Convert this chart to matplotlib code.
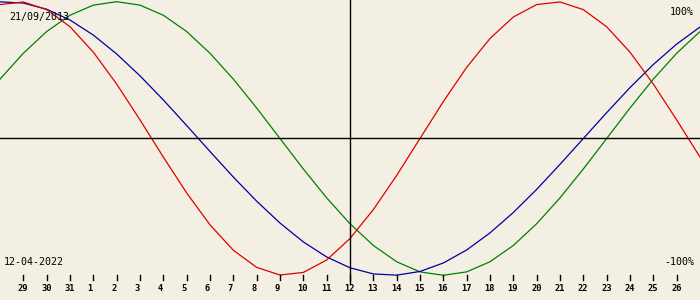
import matplotlib
matplotlib.use("Agg")
import matplotlib.pyplot as plt

BG = '#f3efe3'

# day labels under the ticks (29 Mar .. 26 Apr)
dayLabels = ['29', '30', '31'] + [str(d) for d in range(1, 27)]
todayLabel = '12'

# daily values, 28 Mar .. 27 Apr (one extra day on each side)
physical = [0.979, 0.998, 0.942, 0.817, 0.631, 0.398, 0.136, -0.136, -0.398, -0.631,
            -0.817, -0.942, -0.998, -0.979, -0.888, -0.731, -0.520, -0.270, 0.000, 0.270,
            0.520, 0.731, 0.888, 0.979, 0.998, 0.942, 0.817, 0.631, 0.398, 0.136, -0.136]
emotional = [0.434, 0.623, 0.782, 0.901, 0.975, 1.000, 0.975, 0.901, 0.782, 0.623,
             0.434, 0.223, 0.000, -0.223, -0.434, -0.623, -0.782, -0.901, -0.975, -1.000,
             -0.975, -0.901, -0.782, -0.623, -0.434, -0.223, 0.000, 0.223, 0.434, 0.623, 0.782]
intellectual = [0.999, 0.990, 0.945, 0.866, 0.756, 0.618, 0.458, 0.282, 0.095, -0.095,
                -0.282, -0.458, -0.618, -0.756, -0.866, -0.945, -0.990, -0.999, -0.972, -0.910,
                -0.815, -0.690, -0.541, -0.372, -0.189, 0.000, 0.189, 0.372, 0.541, 0.690, 0.815]

birthDate = '21/09/2013'
today = '12-04-2022'

fig = plt.figure(figsize=(7, 3), dpi=100, facecolor=BG)
ax = fig.add_axes([0, 0, 1, 1])
ax.set_facecolor(BG)
ax.axis('off')

xs = list(range(-1, len(physical) - 1))
ax.plot(xs, emotional, color='#008000', lw=0.9)
ax.plot(xs, intellectual, color='#0000a0', lw=0.9)
ax.plot(xs, physical, color='#e00000', lw=0.9)

ax.set_xlim(-1, 29)
ax.set_ylim(-1.1806, 1.0124)

# cross through today
todayIdx = dayLabels.index(todayLabel)
ax.axhline(0, color='black', lw=1.0)
ax.plot([todayIdx, todayIdx], [-1.064, 1.1], color='black', lw=1.0)

# tick marks and day numbers
for i, lab in enumerate(dayLabels):
    ax.plot([i, i], [-0.998, -1.035], color='black', lw=1.0)
    ax.text(i - 0.24, -1.093, lab, ha='left', va='center',
            fontsize=6.3, fontweight='bold', family='DejaVu Sans Mono')

# corner texts, placed in pixels (origin bottom-left)
ax.text(9, 300 - 17, birthDate, transform=None, ha='left', va='center',
        fontsize=7.2, family='DejaVu Sans Mono')
ax.text(4, 300 - 262, today, transform=None, ha='left', va='center',
        fontsize=7.2, family='DejaVu Sans Mono')
ax.text(694, 300 - 12, '100%', transform=None, ha='right', va='center',
        fontsize=7.2, family='DejaVu Sans Mono')
ax.text(694, 300 - 262, '-100%', transform=None, ha='right', va='center',
        fontsize=7.2, family='DejaVu Sans Mono')

fig.savefig('out.png', dpi=100, facecolor=BG)
